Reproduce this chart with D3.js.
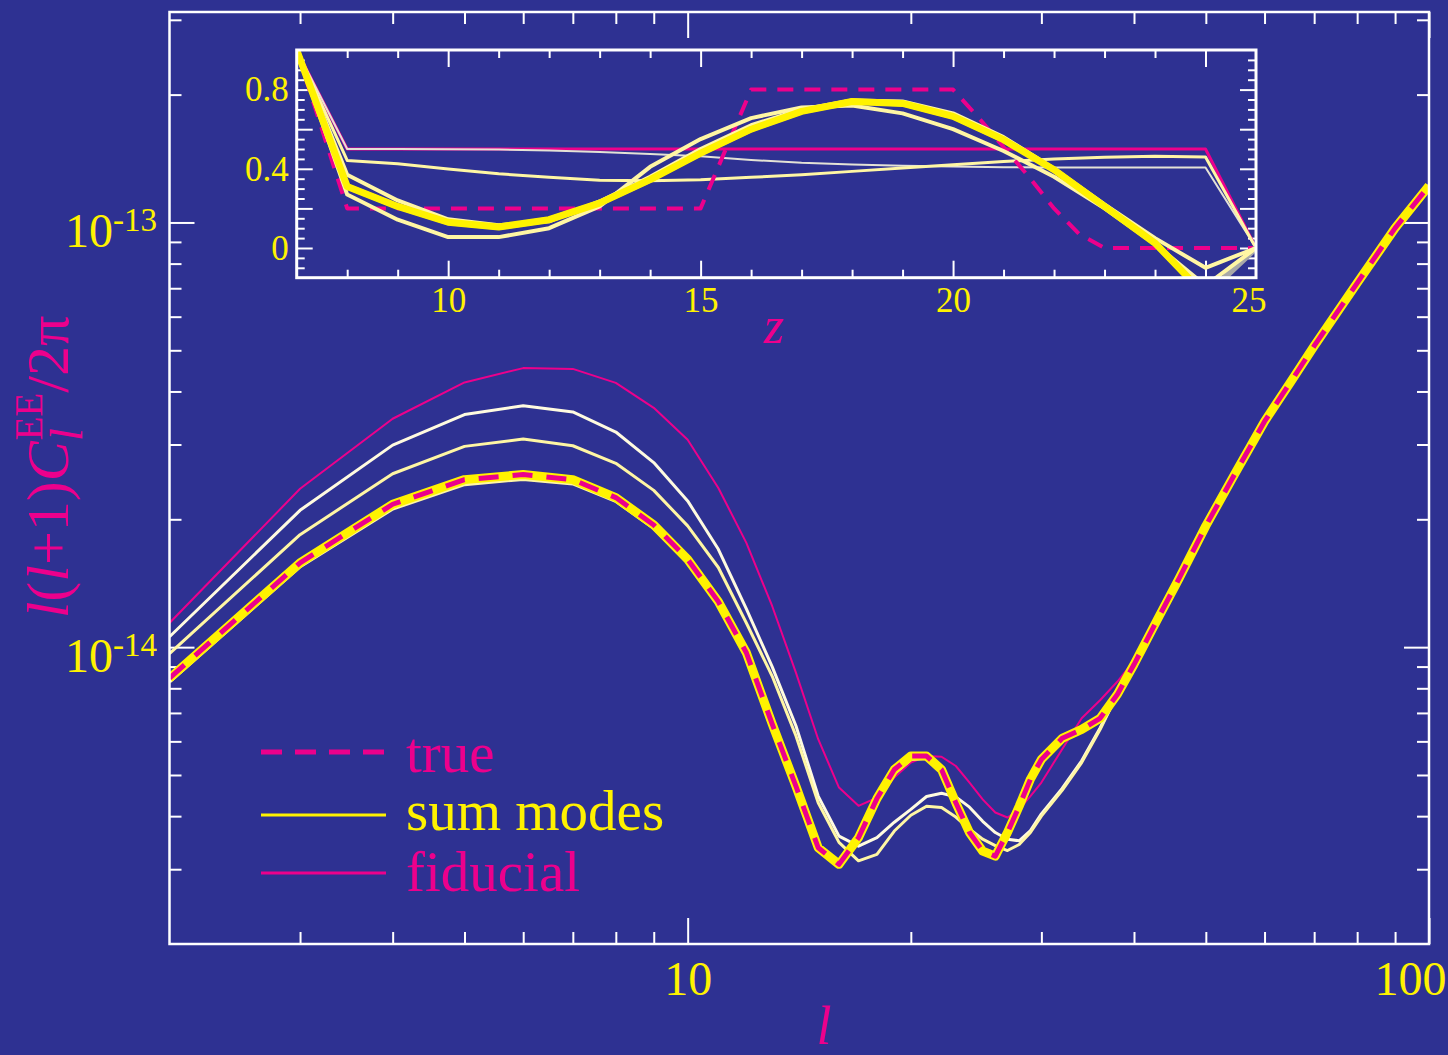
<!DOCTYPE html>
<html>
<head>
<meta charset="utf-8">
<script src="https://cdn.jsdelivr.net/npm/d3@7"></script>
<style>
  html, body { margin: 0; padding: 0; background: #2e3192; }
  svg { display: block; }
</style>
</head>
<body>
<svg id="chart"></svg>
<script>
// main panel: multipoles and spectra, l(l+1)C_l/2pi in units of 1e-14
const ells = [2,3,4,5,6,7,8,9,10,11,12,13,14,15,16,17,18,19,20,21,22,23,24,25,26,27,28,29,30,32,34,36,38,40,43,46,50,55,60,65,70,80,90,100];
const clTrue = [0.845,1.58,2.17,2.48,2.55,2.48,2.25,1.94,1.61,1.28,0.97,0.66,0.47,0.337,0.308,0.356,0.44,0.515,0.554,0.554,0.515,0.43,0.366,0.331,0.322,0.366,0.422,0.489,0.544,0.61,0.64,0.68,0.775,0.91,1.16,1.45,1.93,2.6,3.4,4.2,5.12,7.2,9.7,12.2];
const clSumBest = [0.845,1.58,2.17,2.48,2.55,2.48,2.25,1.94,1.61,1.28,0.97,0.66,0.47,0.337,0.308,0.356,0.44,0.515,0.554,0.554,0.515,0.43,0.366,0.331,0.322,0.366,0.422,0.489,0.544,0.61,0.64,0.68,0.775,0.91,1.16,1.45,1.93,2.6,3.4,4.2,5.12,7.2,9.7,12.2];
const clSumNear = [0.83,1.55,2.12,2.42,2.49,2.43,2.21,1.91,1.59,1.27,0.965,0.66,0.472,0.34,0.31,0.352,0.432,0.505,0.545,0.548,0.51,0.43,0.367,0.333,0.322,0.362,0.418,0.485,0.54,0.605,0.64,0.68,0.775,0.91,1.16,1.45,1.93,2.6,3.4,4.2,5.12,7.2,9.7,12.2];
const clSumA = [1.058,2.10,2.99,3.53,3.70,3.58,3.21,2.72,2.21,1.70,1.23,0.90,0.652,0.446,0.359,0.34,0.356,0.387,0.415,0.445,0.453,0.444,0.42,0.389,0.366,0.353,0.35,0.37,0.405,0.465,0.54,0.645,0.775,0.91,1.16,1.45,1.93,2.6,3.4,4.2,5.12,7.2,9.7,12.2];
const clSumB = [0.966,1.84,2.56,2.97,3.09,2.98,2.71,2.34,1.93,1.54,1.14,0.855,0.618,0.43,0.347,0.314,0.325,0.369,0.402,0.422,0.419,0.398,0.373,0.353,0.341,0.332,0.343,0.366,0.40,0.46,0.535,0.64,0.775,0.91,1.16,1.45,1.93,2.6,3.4,4.2,5.12,7.2,9.7,12.2];
const clFid = [1.14,2.36,3.45,4.20,4.54,4.52,4.19,3.66,3.08,2.37,1.76,1.25,0.87,0.607,0.467,0.423,0.442,0.493,0.535,0.554,0.552,0.525,0.48,0.438,0.408,0.397,0.415,0.446,0.48,0.575,0.68,0.75,0.83,0.93,1.16,1.45,1.93,2.6,3.4,4.2,5.12,7.2,9.7,12.2];
const unit = 1e-14;

// inset: ionization history x_e(z)
const zs = [7,8,9,10,11,12,13,14,15,16,17,18,19,20,21,22,23,24,25,26];
const xeFid = [1.0,0.5,0.5,0.5,0.5,0.5,0.5,0.5,0.5,0.5,0.5,0.5,0.5,0.5,0.5,0.5,0.5,0.5,0.5,0.0];
const xeModesA = [1.0,0.5,0.5,0.499,0.497,0.493,0.485,0.475,0.463,0.445,0.43,0.422,0.416,0.411,0.408,0.407,0.407,0.407,0.407,0.0];
const xeModesB = [1.0,0.442,0.426,0.399,0.375,0.357,0.342,0.34,0.345,0.357,0.37,0.387,0.404,0.42,0.437,0.449,0.458,0.463,0.46,0.0];
const xeModesC = [1.0,0.27,0.143,0.055,0.055,0.1,0.21,0.41,0.55,0.656,0.71,0.72,0.68,0.6,0.49,0.36,0.2,0.02,-0.19,0.0];
const xeModesD = [1.0,0.37,0.24,0.145,0.115,0.135,0.235,0.36,0.5,0.62,0.7,0.745,0.74,0.68,0.56,0.4,0.22,0.05,-0.1,0.0];
const xeModesBest = [1.0,0.311,0.21,0.13,0.106,0.143,0.227,0.345,0.479,0.6,0.69,0.74,0.73,0.665,0.547,0.395,0.21,0.025,-0.24,0.0];
const trueZ = [7,8,15,16,20,20.5,21,21.5,22,22.5,23,26];
const trueXe = [1.0,0.2,0.2,0.8,0.8,0.66,0.51,0.36,0.2,0.07,0.0,0.0];

// ticks
const ellMajor = [10, 100];
const ellMinor = [3,4,5,6,7,8,9,20,30,40,50,60,70,80,90];
const clMajor = [1e-14, 1e-13];
const clMinor = [3e-15,4e-15,5e-15,6e-15,7e-15,8e-15,9e-15,2e-14,3e-14,4e-14,5e-14,6e-14,7e-14,8e-14,9e-14,2e-13,3e-13];
const zMajor = [10, 15, 20, 25];
const zMinor = [8,9,11,12,13,14,16,17,18,19,21,22,23,24];
const xeMajor = [0, 0.2, 0.4, 0.6, 0.8];
const xeMinor = [-0.1,-0.05,0.05,0.1,0.15,0.25,0.3,0.35,0.45,0.5,0.55,0.65,0.7,0.75,0.85,0.9,0.95];
const xeLabels = [0, 0.4, 0.8];

const width = 1448, height = 1055;
const bg = "#2e3192", magenta = "#ec008c", yellow = "#fff200",
      pale = "#fff6a4", cream = "#fffbe0", grey = "#a8a8a8";
const serif = "'Liberation Serif', 'Times New Roman', serif";

const svg = d3.select("#chart").attr("width", width).attr("height", height);
svg.append("rect").attr("width", width).attr("height", height).attr("fill", bg);

// ---------- main panel ----------
const x = d3.scaleLog().domain([2, 100]).range([169.5, 1429]);
const y = d3.scaleLog().domain([2e-15, 3.13e-13]).range([944, 12]);
const [x0, x1] = x.range(), [y1, y0] = y.range();

svg.append("clipPath").attr("id", "clipMain")
    .append("rect").attr("x", x0).attr("y", y0).attr("width", x1 - x0).attr("height", y1 - y0);

function tickGroup(axis, tx, ty) {
    const g = svg.append("g").attr("transform", `translate(${tx},${ty})`).call(axis);
    g.select(".domain").remove();
    g.selectAll(".tick line").attr("stroke", "white").attr("stroke-width", 2);
    g.selectAll("text").attr("font-family", serif).attr("fill", yellow);
    return g;
}

tickGroup(d3.axisBottom(x).tickValues(ellMinor).tickSize(-12).tickFormat(""), 0, y1);
tickGroup(d3.axisTop(x).tickValues(ellMinor).tickSize(-12).tickFormat(""), 0, y0);
tickGroup(d3.axisTop(x).tickValues(ellMajor).tickSize(-26).tickFormat(""), 0, y0);
tickGroup(d3.axisLeft(y).tickValues(clMinor).tickSize(-12).tickFormat(""), x0, 0);
tickGroup(d3.axisRight(y).tickValues(clMinor).tickSize(-12).tickFormat(""), x1, 0);
tickGroup(d3.axisLeft(y).tickValues(clMajor).tickSize(-25).tickFormat(""), x0, 0);
tickGroup(d3.axisRight(y).tickValues(clMajor).tickSize(-25).tickFormat(""), x1, 0);

const xLab = tickGroup(d3.axisBottom(x).tickValues(ellMajor).tickSize(-26).tickPadding(17)
    .tickFormat(d3.format("d")), 0, y1);
xLab.selectAll("text").attr("font-size", 48).attr("dx", d => d === 100 ? -19 : 0);

// y tick labels as 10^n
clMajor.forEach(v => {
    const t = svg.append("text")
        .attr("x", 157).attr("y", y(v) + 25)
        .attr("text-anchor", "end")
        .attr("font-family", serif).attr("font-size", 48).attr("fill", yellow);
    t.append("tspan").text("10");
    t.append("tspan").attr("font-size", 33).attr("dy", -16).text(String(Math.round(Math.log10(v))));
});

const mainLine = d3.line().x(d => x(d[0])).y(d => y(d[1] * unit));
const plotMain = svg.append("g").attr("clip-path", "url(#clipMain)")
    .attr("fill", "none").attr("stroke-linejoin", "round");

plotMain.append("path").attr("d", mainLine(d3.zip(ells, clFid)))
    .attr("stroke", magenta).attr("stroke-width", 2);
plotMain.append("path").attr("d", mainLine(d3.zip(ells, clSumA)))
    .attr("stroke", cream).attr("stroke-width", 3);
plotMain.append("path").attr("d", mainLine(d3.zip(ells, clSumB)))
    .attr("stroke", pale).attr("stroke-width", 3);
plotMain.append("path").attr("d", mainLine(d3.zip(ells, clSumNear)))
    .attr("stroke", pale).attr("stroke-width", 4);
plotMain.append("path").attr("d", mainLine(d3.zip(ells, clSumBest)))
    .attr("stroke", yellow).attr("stroke-width", 9);
plotMain.append("path").attr("d", mainLine(d3.zip(ells, clTrue)))
    .attr("stroke", magenta).attr("stroke-width", 5).attr("stroke-dasharray", "20,14");

svg.append("rect").attr("x", x0).attr("y", y0).attr("width", x1 - x0).attr("height", y1 - y0)
    .attr("fill", "none").attr("stroke", "white").attr("stroke-width", 2.5);

// axis titles
svg.append("text").attr("x", 824).attr("y", 1044).attr("text-anchor", "middle")
    .attr("font-family", serif).attr("font-style", "italic").attr("font-size", 54)
    .attr("fill", magenta).text("l");

const yt = svg.append("text").attr("transform", "translate(68,467) rotate(-90)")
    .attr("text-anchor", "middle").attr("font-family", serif).attr("font-size", 60).attr("fill", magenta);
yt.append("tspan").attr("font-style", "italic").text("l");
yt.append("tspan").text("(");
yt.append("tspan").attr("font-style", "italic").text("l");
yt.append("tspan").text("+1)");
yt.append("tspan").attr("font-style", "italic").text("C");
yt.append("tspan").attr("font-style", "italic").attr("font-size", 46).attr("dy", 14).text("l");
yt.append("tspan").attr("font-size", 39).attr("dx", -12).attr("dy", -40).text("EE");
yt.append("tspan").attr("dy", 26).text("/2π");

// legend
const legend = [
    { label: "true", color: magenta, width: 5, dash: "21,13", ly: 752, ty: 772 },
    { label: "sum modes", color: yellow, width: 3, dash: null, ly: 815, ty: 830, text: yellow },
    { label: "fiducial", color: magenta, width: 3, dash: null, ly: 873, ty: 891 }
];
legend.forEach(d => {
    svg.append("line").attr("x1", 261).attr("x2", 386).attr("y1", d.ly).attr("y2", d.ly)
        .attr("stroke", d.color).attr("stroke-width", d.width).attr("stroke-dasharray", d.dash);
    svg.append("text").attr("x", 406).attr("y", d.ty)
        .attr("font-family", serif).attr("font-size", 57).attr("fill", d.text || d.color).text(d.label);
});

// ---------- inset ----------
const xi = d3.scaleLinear().domain([7, 26]).range([296.7, 1256]);
const yi = d3.scaleLinear().domain([-0.15, 1]).range([277.7, 50]);
const [ix0, ix1] = xi.range(), [iy1, iy0] = yi.range();

svg.append("rect").attr("x", ix0).attr("y", iy0).attr("width", ix1 - ix0).attr("height", iy1 - iy0)
    .attr("fill", bg);
svg.append("clipPath").attr("id", "clipInset")
    .append("rect").attr("x", ix0).attr("y", iy0).attr("width", ix1 - ix0).attr("height", iy1 - iy0);

tickGroup(d3.axisBottom(xi).tickValues(zMinor).tickSize(-8).tickFormat(""), 0, iy1);
tickGroup(d3.axisTop(xi).tickValues(zMinor).tickSize(-8).tickFormat(""), 0, iy0);
tickGroup(d3.axisTop(xi).tickValues(zMajor).tickSize(-17).tickFormat(""), 0, iy0);
tickGroup(d3.axisLeft(yi).tickValues(xeMinor).tickSize(-8).tickFormat(""), ix0, 0);
tickGroup(d3.axisRight(yi).tickValues(xeMinor).tickSize(-8).tickFormat(""), ix1, 0);
tickGroup(d3.axisLeft(yi).tickValues(xeMajor).tickSize(-16).tickFormat(""), ix0, 0);
tickGroup(d3.axisRight(yi).tickValues(xeMajor).tickSize(-16).tickFormat(""), ix1, 0);

const zLab = tickGroup(d3.axisBottom(xi).tickValues(zMajor).tickSize(-17).tickPadding(9)
    .tickFormat(d3.format("d")), 0, iy1);
zLab.selectAll("text").attr("font-size", 35).attr("dx", d => d === 25 ? 43 : 0);

const xeLab = svg.append("g").attr("transform", `translate(${ix0},0)`)
    .call(d3.axisLeft(yi).tickValues(xeLabels).tickSize(0).tickPadding(8)
        .tickFormat(d => d === 0 ? "0" : d.toFixed(1)));
xeLab.select(".domain").remove();
xeLab.selectAll("text").attr("font-family", serif).attr("font-size", 35).attr("fill", yellow);

const insetLine = d3.line().x(d => xi(d[0])).y(d => yi(d[1]));
const plotInset = svg.append("g").attr("clip-path", "url(#clipInset)")
    .attr("fill", "none").attr("stroke-linejoin", "round");

plotInset.append("path").attr("d", insetLine(d3.zip(zs, xeFid)))
    .attr("stroke", magenta).attr("stroke-width", 3);
plotInset.append("path").attr("d", insetLine(d3.zip(zs, xeModesA)))
    .attr("stroke", "#e4e2d6").attr("stroke-width", 2);
plotInset.append("path").attr("d", insetLine(d3.zip(zs, xeModesB)))
    .attr("stroke", pale).attr("stroke-width", 3);
plotInset.append("path").attr("d", insetLine(d3.zip(trueZ, trueXe)))
    .attr("stroke", magenta).attr("stroke-width", 4).attr("stroke-dasharray", "16,11");
plotInset.append("path").attr("d", insetLine(d3.zip(zs, xeModesBest)))
    .attr("stroke", grey).attr("stroke-width", 6);
plotInset.append("path").attr("d", insetLine(d3.zip(zs, xeModesC)))
    .attr("stroke", pale).attr("stroke-width", 4);
plotInset.append("path").attr("d", insetLine(d3.zip(zs, xeModesD)))
    .attr("stroke", pale).attr("stroke-width", 4);
plotInset.append("path").attr("d", insetLine(d3.zip(zs, xeModesBest).filter(d => d[0] <= 25)))
    .attr("stroke", yellow).attr("stroke-width", 7);

svg.append("rect").attr("x", ix0).attr("y", iy0).attr("width", ix1 - ix0).attr("height", iy1 - iy0)
    .attr("fill", "none").attr("stroke", "white").attr("stroke-width", 3);

svg.append("text").attr("x", 774).attr("y", 343).attr("text-anchor", "middle")
    .attr("font-family", serif).attr("font-style", "italic").attr("font-size", 52)
    .attr("fill", magenta).text("z");
</script>
</body>
</html>
